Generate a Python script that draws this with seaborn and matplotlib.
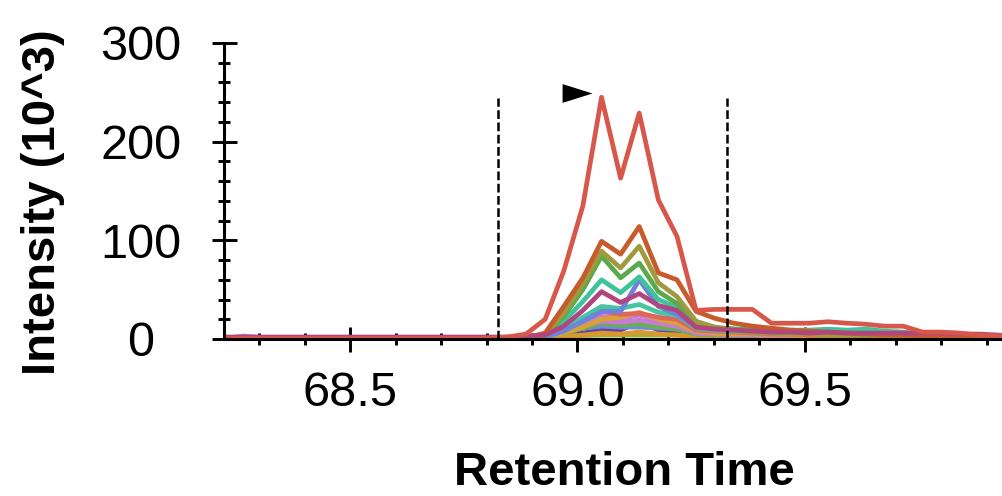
import numpy as np
import pandas as pd
import matplotlib
matplotlib.use("Agg")
import matplotlib.pyplot as plt
from matplotlib.ticker import MultipleLocator, FixedLocator
import seaborn as sns

# Retention times (min) of the acquired scans
times = [68.223, 68.265, 68.306, 68.348, 68.389, 68.431, 68.472, 68.514, 68.555, 68.597,
         68.638, 68.680, 68.721, 68.763, 68.804, 68.846, 68.887, 68.929, 68.970, 69.012,
         69.053, 69.095, 69.136, 69.178, 69.219, 69.261, 69.302, 69.344, 69.385, 69.427,
         69.468, 69.510, 69.551, 69.593, 69.634, 69.676, 69.717, 69.759, 69.800, 69.842,
         69.883, 69.925, 69.966]

# Transition intensities (10^3), one list per transition
t01 = [0.5, 0.5, 0.5, 0.5, 0.5, 0.5, 0.5, 0.5, 0.5, 0.5, 0.5, 0.5, 0.5, 0.5, 0.8, 2, 5, 20, 69, 135,
       245, 163, 229, 141, 104, 29, 30, 30, 30, 16, 16, 16, 17.5, 16, 15, 13, 13, 7, 7, 6, 4, 3, 2]
t02 = [0.5, 0.5, 0.5, 0.5, 0.5, 0.5, 0.5, 0.5, 0.5, 0.5, 0.5, 0.5, 0.5, 0.5, 0.5, 0.8, 1.5, 6, 33, 62,
       99, 86, 114, 67, 60, 28, 21, 16, 13, 11, 9, 8, 7, 6, 5, 4, 4, 3, 3, 2, 2, 1.5, 1]
t03 = [0.3, 0.3, 0.3, 0.3, 0.3, 0.3, 0.3, 0.3, 0.3, 0.3, 0.3, 0.3, 0.3, 0.3, 0.3, 0.5, 1, 4, 26, 56,
       89, 72, 94, 57, 43, 18, 12, 9, 7, 6, 5, 5, 4, 4, 3, 3, 3, 2, 2, 2, 1.5, 1, 1]
t04 = [0.3, 0.3, 0.3, 0.3, 0.3, 0.3, 0.3, 0.3, 0.3, 0.3, 0.3, 0.3, 0.3, 0.3, 0.3, 0.5, 1, 4, 23, 50,
       84, 62, 77, 48, 36, 16, 12, 10, 9, 8, 7, 6, 6, 5, 5, 4, 4, 3, 2, 2, 1.5, 1, 1]
t05 = [0.3, 0.3, 0.3, 0.3, 0.3, 0.3, 0.3, 0.3, 0.3, 0.3, 0.3, 0.3, 0.3, 0.3, 0.3, 0.5, 1, 3, 18, 38,
       60, 47, 63, 40, 32, 14, 11, 10, 10, 9, 9, 9, 10, 9, 10, 8, 7, 5, 4, 3, 2, 1.5, 1]
t06 = [0.3, 0.3, 0.3, 0.3, 0.3, 0.3, 0.3, 0.3, 0.3, 0.3, 0.3, 0.3, 0.3, 0.3, 0.3, 0.5, 1, 2, 8, 18,
       28, 28, 60, 33, 25, 12, 10, 10, 9, 8, 7, 6, 5, 5, 4, 4, 3, 3, 2, 2, 1.5, 1, 1]
t07 = [2, 2, 2, 2, 2, 2, 2, 2, 2, 2, 2, 2, 2, 2, 2, 2, 2.5, 4, 13, 29,
       48, 37, 46, 34, 29, 12, 10, 9, 8, 7, 7, 6, 7, 6, 6, 6, 6, 6, 6, 5, 5, 4, 3]
t08 = [0.3, 0.3, 0.3, 0.3, 0.3, 0.3, 0.3, 0.3, 0.3, 0.3, 0.3, 0.3, 0.3, 0.3, 0.3, 0.5, 1, 2, 10, 22,
       33, 31, 35, 27, 24, 11, 9, 8, 7, 6, 6, 6, 7, 6, 5, 5, 4, 3, 3, 2, 2, 1, 1]
t09 = [0.3, 0.3, 0.3, 0.3, 0.3, 0.3, 0.3, 0.3, 0.3, 0.3, 0.3, 0.3, 0.3, 0.3, 0.3, 0.5, 1, 2, 9, 19,
       28, 25, 26, 22, 20, 9, 8, 7, 6, 5, 5, 4, 4, 4, 3, 3, 3, 2, 2, 2, 1, 1, 1]
t10 = [0.3, 0.3, 0.3, 0.3, 0.3, 0.3, 0.3, 0.3, 0.3, 0.3, 0.3, 0.3, 0.3, 0.3, 0.3, 0.5, 1, 2, 6, 12,
       20, 22, 27, 20, 16, 8, 6, 5, 5, 4, 4, 3, 3, 3, 3, 2, 2, 2, 1, 1, 1, 1, 1]
t11 = [0.5, 3, 1.5, 0.5, 0.5, 0.5, 0.5, 0.5, 0.5, 0.5, 0.5, 0.5, 0.5, 0.5, 0.5, 0.8, 1.5, 3, 9, 16,
       23, 21, 24, 20, 17, 8, 6, 5, 5, 4, 4, 3, 3, 3, 3, 2, 2, 2, 1, 1, 1, 1, 1]
t17 = [0.3, 0.3, 0.3, 0.3, 0.3, 0.3, 0.3, 0.3, 0.3, 0.3, 0.3, 0.3, 0.3, 0.3, 0.3, 0.5, 1, 2, 7, 13,
       18, 17, 19, 16, 13, 6, 5, 4, 4, 3, 3, 3, 2, 2, 2, 2, 1, 1, 1, 1, 1, 1, 1]
t12 = [0.3, 0.3, 0.3, 0.3, 0.3, 0.3, 0.3, 0.3, 0.3, 0.3, 0.3, 0.3, 0.3, 0.3, 0.3, 0.5, 1, 2, 6, 11,
       16, 14, 15, 12, 10, 5, 4, 4, 3, 3, 3, 2, 2, 2, 2, 2, 1, 1, 1, 1, 1, 1, 1]
t13 = [0.3, 0.3, 0.3, 0.3, 0.3, 0.3, 0.3, 0.3, 0.3, 0.3, 0.3, 0.3, 0.3, 0.3, 0.3, 0.5, 1, 2, 6, 11,
       13, 12, 12, 11, 10, 6, 5, 4, 4, 3, 3, 3, 2, 2, 2, 2, 1, 1, 1, 1, 1, 1, 1]
t14 = [0.3, 0.3, 0.3, 0.3, 0.3, 0.3, 0.3, 0.3, 0.3, 0.3, 0.3, 0.3, 0.3, 0.3, 0.3, 0.5, 1, 1.5, 3, 6,
       9, 9, 17.5, 9, 7, 4, 3, 3, 2, 2, 2, 2, 2, 1, 1, 1, 1, 1, 1, 1, 1, 1, 1]
t15 = [0.3, 0.3, 0.3, 0.3, 0.3, 0.3, 0.3, 0.3, 0.3, 0.3, 0.3, 0.3, 0.3, 0.3, 0.3, 0.4, 0.6, 1, 2, 4,
       6, 5, 7, 5, 4, 2, 1.5, 1, 1, 1, 1, 1, 1, 1, 1, 1, 1, 1, 1, 1, 1, 1, 1]
t16 = [0.2, 0.2, 0.2, 0.2, 0.2, 0.2, 0.2, 0.2, 0.2, 0.2, 0.2, 0.2, 0.2, 0.2, 0.2, 0.3, 0.8, 2, 3, 3.5,
       4, 4, 4, 4, 4, 3, 2.5, 2, 1.5, 1, 1, 1, 1, 1, 1, 1, 1, 1, 1, 1, 1, 1, 1]

# Drawing order: smallest transitions first, the dominant one last
series = {
    "y14": t14, "y16": t16, "y15": t15, "y13": t13, "y12": t12, "y17": t17, "y11": t11,
    "y10": t10, "y9": t09, "y8": t08, "y6": t06, "y5": t05,
    "y4": t04, "y3": t03, "y2": t02, "y7": t07, "y1": t01,
}
colors = {
    "y1": "#d8574b", "y2": "#c85b2c", "y3": "#9e9a3d", "y4": "#5ca84d",
    "y5": "#3fc39a", "y6": "#6d84dc", "y7": "#b1457f", "y8": "#47c4a2",
    "y9": "#e0655c", "y10": "#d9a233", "y11": "#c87bd6", "y12": "#67b152",
    "y13": "#7289e0", "y14": "#6a3e9e", "y15": "#d69a2e", "y16": "#9cb13d",
    "y17": "#c97ad2",
}

# Integration boundaries and the apex marker
boundaries = [68.826, 69.330]
boundary_top = 244
apex_time = 69.0
apex_height = 249

df = pd.concat(
    [pd.DataFrame({"Retention Time": times, "Intensity": vals, "Transition": name})
     for name, vals in series.items()],
    ignore_index=True,
)

sns.set_style("ticks")
plt.rcParams["font.family"] = ["Liberation Sans", "DejaVu Sans"]

fig = plt.figure(figsize=(10.02, 4.96), dpi=100)
ax = fig.add_axes([224 / 1002, 157 / 496, 778 / 1002, 296 / 496])

sns.lineplot(data=df, x="Retention Time", y="Intensity", hue="Transition",
             hue_order=list(series.keys()), palette=colors, sort=False,
             estimator=None, legend=False, ax=ax)
for line in ax.lines:
    line.set_linewidth(3.4)
    line.set_solid_joinstyle("round")

ax.vlines(boundaries, 0, boundary_top, colors="black", linestyles=(0, (3.5, 1.4)),
          linewidth=1.8, zorder=5)

tri = [(-1, -0.63), (1, 0), (-1, 0.63), (-1, -0.63)]
ax.scatter([apex_time], [apex_height], marker=tri, s=21.5 ** 2, color="black",
           linewidths=0, zorder=6, clip_on=False)

ax.set_xlim(68.2225, 69.934)
ax.set_ylim(0, 300)

ax.xaxis.set_major_locator(FixedLocator([68.5, 69.0, 69.5]))
ax.xaxis.set_minor_locator(MultipleLocator(0.1))
ax.yaxis.set_major_locator(FixedLocator([0, 100, 200, 300]))
ax.yaxis.set_minor_locator(MultipleLocator(20))
ax.set_xticklabels(["68.5", "69.0", "69.5"])
ax.set_yticklabels(["0", "100", "200", "300"])

ax.tick_params(which="major", direction="inout", length=18, width=2.1, color="black",
               labelsize=35, labelcolor="black")
ax.tick_params(which="minor", direction="inout", length=9, width=2.1, color="black")
ax.tick_params(axis="x", which="major", pad=14)
ax.tick_params(axis="y", which="major", pad=51)
for lab in ax.get_yticklabels():
    lab.set_horizontalalignment("center")

for side in ("top", "right"):
    ax.spines[side].set_visible(False)
for side in ("left", "bottom"):
    ax.spines[side].set_linewidth(2.2)
    ax.spines[side].set_color("black")

ax.set_xlabel("Retention Time", fontsize=34, fontweight="bold", color="black",
              va="baseline")
ax.xaxis.set_label_coords((624.5 - 224) / 778, (11 - 157) / 296)
ax.set_ylabel("Intensity (10^3)", fontsize=34, fontweight="bold", color="black",
              va="baseline", ha="center")
ax.yaxis.set_label_coords((55 - 224) / 778, (294 - 157) / 296)

fig.savefig("out.png", dpi=100)
